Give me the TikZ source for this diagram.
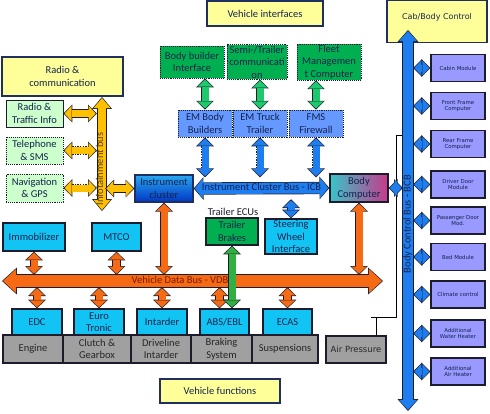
\documentclass[tikz,border=0pt]{standalone}
\usepackage{fontspec}
\setmainfont{Carlito}
\newfontfamily\dejavu{DejaVu Sans}
\usetikzlibrary{arrows.meta}
\definecolor{edge}{HTML}{1C1C2C}
\definecolor{navyedge}{HTML}{1F3060}
\definecolor{ink}{HTML}{14224E}
\definecolor{rust}{HTML}{7A1A00}
\definecolor{umber}{HTML}{5E4200}
\definecolor{sand}{HTML}{FFFF99}
\definecolor{mint}{HTML}{CCFFCC}
\definecolor{leaf}{HTML}{00B050}
\definecolor{sky}{HTML}{6699FF}
\definecolor{aqua}{HTML}{12C4F4}
\definecolor{slate}{HTML}{A0A0A0}
\definecolor{lilac}{HTML}{9999FF}
\definecolor{gold}{HTML}{FFC000}
\definecolor{flame}{HTML}{F56A12}
\definecolor{jade}{HTML}{1EC86C}
\definecolor{grass}{HTML}{30B040}
\definecolor{azure}{HTML}{1E7EF0}
\definecolor{ictop}{HTML}{2AA8F0}
\definecolor{icbot}{HTML}{0036C4}
\definecolor{bcleft}{HTML}{38C4C8}
\definecolor{bcright}{HTML}{C8388C}

\tikzset{
  box/.style={draw=edge, line width=0.9pt, inner sep=1pt, align=center, text=ink,
    font=\fontsize{10.5}{12.5}\selectfont},
  title/.style={box, fill=sand, draw=navyedge, line width=1.1pt},
  radio/.style={box, fill=mint},
  ifc/.style={box, fill=leaf, densely dotted},
  em/.style={box, fill=sky, densely dotted},
  ecu/.style={box, fill=aqua, line width=1.1pt},
  func/.style={box, fill=slate, line width=1.6pt, text=black!85},
  module/.style={box, fill=lilac, line width=1.3pt, minimum width=54pt, minimum height=27pt,
    font=\dejavu\fontsize{5.4}{6.8}\selectfont},
  buslbl/.style={inner sep=0pt, font=\fontsize{10.5}{12.5}\selectfont},
  wire/.style={draw=black, line width=0.6pt},
  fat/.code n args={5}{%
    \pgfmathsetlengthmacro\fatS{#2+1.3pt}%
    \pgfmathsetlengthmacro\fatH{#3+2.8pt}%
    \pgfmathsetlengthmacro\fatL{#4+1.8pt}%
    \pgfkeysalso{draw=#1, line width=#2, shorten <=1.1pt, shorten >=1.1pt,
      {Triangle[width=#3,length=#4,line width=0pt]}-{Triangle[width=#3,length=#4,line width=0pt]},
      preaction={draw=edge, line width=\fatS, shorten <=0pt, shorten >=0pt, #5,
        {Triangle[width=\fatH,length=\fatL,line width=0pt]}-{Triangle[width=\fatH,length=\fatL,line width=0pt]}}}},
  link/.style={fat={#1}{7pt}{15pt}{7pt}{solid}},
  dlink/.style={fat={#1}{7pt}{15pt}{7pt}{dash pattern=on 1.3pt off 1.3pt}},
}

\begin{document}
\begin{tikzpicture}[x=1pt, y=-1pt]
  \useasboundingbox (0,0) rectangle (490,413);

  % bus end points
  \coordinate (infT) at (102,97);
  \coordinate (infB) at (102,211);
  \coordinate (vdbL) at (2,281);
  \coordinate (vdbR) at (383,281);
  \coordinate (bcbT) at (408,30);
  \coordinate (bcbB) at (408,411);

  % group titles
  \node[title, minimum width=116pt, minimum height=25pt] (vint) at (265,13.5) {Vehicle interfaces};
  \node[title, minimum width=100pt, text height=18pt, text depth=22pt,
    font=\dejavu\fontsize{8}{9.5}\selectfont] (cab) at (437,21.5) {Cab/Body Control};
  \node[title, minimum width=121pt, minimum height=39pt] (radcom) at (62.5,76.5) {Radio \&\\communication};
  \node[title, minimum width=120pt, minimum height=24pt] (vfun) at (220,391) {Vehicle functions};

  % infotainment
  \node[radio, minimum width=57pt, minimum height=27pt] (radio) at (34.5,113.5) {Radio \&\\Traffic Info};
  \node[radio, densely dotted, minimum width=57pt, minimum height=27pt] (phone) at (34.5,150.5) {Telephone\\\& SMS};
  \node[radio, densely dotted, minimum width=57pt, minimum height=28pt] (navi) at (34.5,188) {Navigation\\\& GPS};

  \node[box, top color=ictop, bottom color=icbot, draw=navyedge, line width=1.4pt,
    minimum width=58pt, minimum height=27pt] (ic) at (164,188.5) {Instrument\\cluster};
  \node[box, left color=bcleft, right color=bcright, line width=1.4pt,
    minimum width=58pt, minimum height=28pt] (bc) at (359,188) {Body\\Computer};

  % vehicle interfaces
  \node[ifc, minimum width=64pt, minimum height=32pt] (bbi) at (192,62) {Body builder\\Interface};
  \node[ifc, minimum width=60pt, minimum height=32pt] (stc) at (257,62) {Semi-/Trailer\\communicati\\on};
  \node[ifc, minimum width=64pt, minimum height=32pt] (fmc) at (329,62) {Fleet\\Managemen\\t Computer};
  \node[em, minimum width=54pt, minimum height=27pt] (emb) at (205,123.5) {EM Body\\Builders};
  \node[em, minimum width=54pt, minimum height=27pt] (emt) at (260,123.5) {EM Truck\\Trailer};
  \node[em, minimum width=54pt, minimum height=27pt] (fms) at (316,123.5) {FMS\\Firewall};

  % control units
  \node[ecu, minimum width=62pt, minimum height=28pt] (imm) at (34,237) {Immobilizer};
  \node[ecu, minimum width=49pt, minimum height=28pt] (mtco) at (116.5,237) {MTCO};
  \node[ecu, minimum width=52pt, minimum height=35pt] (sw) at (291,236.5) {Steering\\Wheel\\Interface};
  \node[box, fill=leaf, line width=1.1pt, minimum width=52pt, minimum height=27pt] (tb) at (232,231.5) {Trailer\\Brakes};
  \node[buslbl, text=edge] (tecu) at (233,212) {Trailer ECUs};
  \node[ecu, minimum width=50pt, minimum height=26pt] (edc) at (37,322) {EDC};
  \node[ecu, minimum width=50pt, minimum height=26pt] (eur) at (99,322) {Euro\\Tronic};
  \node[ecu, minimum width=50pt, minimum height=26pt] (intd) at (162,322) {Intarder};
  \node[ecu, minimum width=49pt, minimum height=26pt] (abs) at (224.5,322) {ABS/EBL};
  \node[ecu, minimum width=49pt, minimum height=26pt] (ecas) at (287.5,322) {ECAS};
  \coordinate (absin) at ([xshift=-5pt]abs.north);

  % vehicle functions
  \node[func, minimum width=60pt, minimum height=28pt] (eng) at (33,349) {Engine};
  \node[func, minimum width=68pt, minimum height=28pt] (clu) at (97,349) {Clutch \&\\Gearbox};
  \node[func, minimum width=60pt, minimum height=28pt] (drv) at (161,349) {Driveline\\Intarder};
  \node[func, minimum width=61pt, minimum height=28pt] (brk) at (221.5,349) {Braking\\System};
  \node[func, minimum width=66pt, minimum height=28pt] (sus) at (285,349) {Suspensions};
  \node[func, minimum width=60pt, minimum height=27pt,
    font=\dejavu\fontsize{8.5}{10}\selectfont] (air) at (356,349.5) {Air Pressure};

  % cab modules
  \node[module] (cabm) at (458,68) {Cabin Module};
  \node[module] (ffc) at (458,106) {Front Frame\\Computer};
  \node[module] (rfc) at (458,144) {Rear Frame\\Computer};
  \node[module] (ddm) at (458,184.5) {Driver Door\\Module};
  \node[module] (pdm) at (458,220.5) {Passenger Door\\Mod.};
  \node[module] (bedm) at (458,257) {Bed Module};
  \node[module] (clim) at (458,294.5) {Climate control};
  \node[module] (wh) at (458,333.5) {Additional\\Water Heater};
  \node[module] (ah) at (458,371.5) {Additional\\Air Heater};

  % air pressure line
  \coordinate (tap) at ([yshift=9pt]rfc.west);
  \draw[wire] ([xshift=20pt]air.north) -- ++(0,-18) ++(-5,0) -- ++(25,0) |- (bcbT |- tap);

  % buses
  \draw[fat={gold}{8pt}{17pt}{10pt}{solid}] (infT) -- (infB);
  \draw[fat={flame}{12pt}{24pt}{13pt}{solid}] (vdbL) -- (vdbR);
  \draw[fat={azure}{10pt}{18pt}{10pt}{solid}] (bcbT) -- (bcbB);
  \draw[fat={azure}{11pt}{20pt}{8pt}{solid}] (ic.east) -- (bc.west)
    node[midway, buslbl, text height=7.5pt, text depth=2.5pt, minimum height=11pt, text=ink] (icb) {Instrument Cluster Bus - ICB};
  \node[buslbl, rotate=90, text height=6pt, text depth=2pt, text=umber] (info) at (101,169) {Infotainment bus};
  \node[buslbl, text height=7.5pt, text depth=2.5pt, minimum height=12pt, text=rust] (vdb) at (180,281) {Vehicle Data Bus - VDB};
  \node[buslbl, rotate=90, text height=7.5pt, text depth=2.5pt, text=ink] (bcb) at (408,224) {Body Control Bus - BCB};

  % connectors
  \draw[link=gold] (radio.east) -- (radio.east -| info.north);
  \draw[dlink=gold] (phone.east) -- (phone.east -| info.north);
  \draw[dlink=gold] (navi.east) -- (navi.east -| info.north);
  \draw[link=gold] (ic.west -| info.south) -- (ic.west);

  \draw[link=jade] (emb.north |- bbi.south) -- (emb.north);
  \draw[link=jade] (emt.north |- stc.south) -- (emt.north);
  \draw[link=jade] (fms.north |- fmc.south) -- (fms.north);
  \draw[dlink=azure] (emb.south) -- (emb.south |- icb.north);
  \draw[dlink=azure] (emt.south) -- (emt.south |- icb.north);
  \draw[dlink=azure] (fms.south) -- (fms.south |- icb.north);
  \draw[link=azure] (icb.south -| sw.north) -- (sw.north);
  \draw[link=azure] (bc.east) -- (bc.east -| bcb.north);
  \foreach \m in {cabm,ffc,rfc,ddm,pdm,bedm,clim,wh,ah}
    \draw[link=azure] (\m.west -| bcb.south) -- (\m.west);

  \draw[link=flame] (imm.south) -- (imm.south |- vdb.north);
  \draw[link=flame] (mtco.south) -- (mtco.south |- vdb.north);
  \draw[link=flame] (ic.south) -- (ic.south |- vdb.north);
  \draw[link=flame] (bc.south) -- (bc.south |- vdb.north);
  \draw[link=flame] (edc.north |- vdb.south) -- (edc.north);
  \draw[link=flame] (eur.north |- vdb.south) -- (eur.north);
  \draw[link=flame] (intd.north |- vdb.south) -- (intd.north);
  \draw[link=flame] (absin |- vdb.south) -- (absin);
  \draw[link=flame] (ecas.north |- vdb.south) -- (ecas.north);
  \draw[link=grass] (tb.south) -- (tb.south |- abs.north);
\end{tikzpicture}
\end{document}
